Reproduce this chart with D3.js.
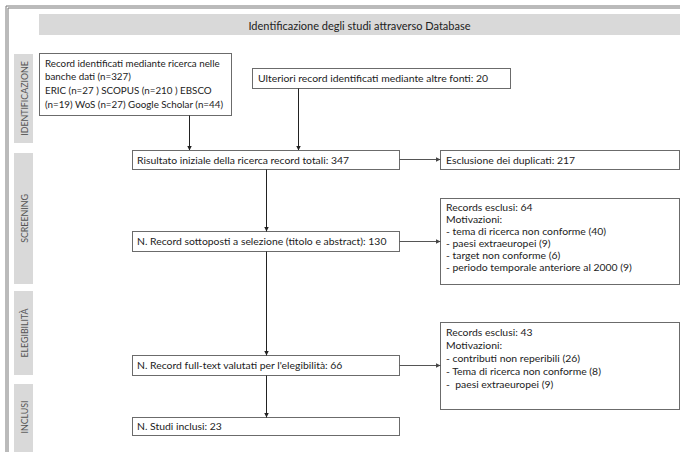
<!DOCTYPE html>
<html>
<head>
<meta charset="utf-8">
<script src="https://cdn.jsdelivr.net/npm/d3@7"></script>
<style>
  body { margin: 0; background: #fff; }
  svg text { font-family: Lato, "Open Sans", sans-serif; fill: #222; white-space: pre; }
</style>
</head>
<body>
<svg id="flow"></svg>
<script>
// Texts and counts
var title = "Identificazione degli studi attraverso Database";
var phases = ["IDENTIFICAZIONE", "SCREENING", "ELEGIBILITÀ", "INCLUSI"];

var dbSources = ["ERIC", "SCOPUS", "EBSCO", "WoS", "Google Scholar"];
var dbCounts = [27, 210, 19, 27, 44];
var dbTotal = 327;
var otherSources = 20;

var mainLabels = [
  "Risultato iniziale della ricerca record totali: ",
  "N. Record sottoposti a selezione (titolo e abstract): ",
  "N. Record full-text valutati per l'elegibilità: ",
  "N. Studi inclusi: "
];
var mainCounts = [347, 130, 66, 23];

var duplicates = 217;
var excl1Total = 64;
var excl1Reasons = ["tema di ricerca non conforme", "paesi extraeuropei ", "target non conforme", "periodo temporale anteriore al 2000"];
var excl1Counts = [40, 9, 6, 9];
var excl2Total = 43;
var excl2Reasons = ["contributi non reperibili", "Tema di ricerca non conforme", " paesi extraeuropei "];
var excl2Counts = [26, 8, 9];

// Canvas
var w = 680,
    h = 452;

var svg = d3.select("#flow")
    .attr("width", w)
    .attr("height", h);

var fs = 10.4,
    boxStroke = "#6b6b6b",
    barFill = "#d9d9d9";

// Layout of the diagram (pixel positions)
var phaseY = [[54, 143], [153, 284], [291, 375], [384, 452]];
var mainX = [132, 399],
    mainY = [[150, 169], [231, 251], [355, 375], [417, 435]],
    sideX = [440, 679],
    sideY = [[150, 169], [198, 284], [322, 409]];

// arrow head
svg.append("defs").selectAll("marker")
    .data([["ahB", "#222"], ["ahG", "#444"]])
    .enter().append("marker")
    .attr("id", function(d) { return d[0]; })
    .attr("viewBox", "0 0 6 6")
    .attr("refX", 6).attr("refY", 3)
    .attr("markerWidth", 5).attr("markerHeight", 5)
    .attr("markerUnits", "userSpaceOnUse")
    .attr("orient", "auto")
    .append("path")
    .attr("d", "M0,0L6,3L0,6Z")
    .attr("fill", function(d) { return d[1]; });

// outer frame (double line, top and left)
[[6, 8], [8, 10]].forEach(function(p, i) {
  svg.append("line").attr("x1", p[0]).attr("x2", p[0]).attr("y1", 6 + i * 2).attr("y2", h)
      .attr("stroke", "#777").attr("stroke-width", 1);
  svg.append("line").attr("x1", 6 + i * 2).attr("x2", w).attr("y1", p[0]).attr("y2", p[0])
      .attr("stroke", "#777").attr("stroke-width", 1);
});

// title bar
svg.append("rect")
    .attr("x", 39).attr("y", 14).attr("width", w - 39).attr("height", 21)
    .attr("fill", barFill);
svg.append("text")
    .attr("x", (39 + w) / 2).attr("y", 25)
    .attr("text-anchor", "middle").attr("dominant-baseline", "central")
    .attr("font-size", 11)
    .text(title);

// phase bars
var phaseG = svg.selectAll(".phase")
    .data(phases)
    .enter().append("g")
    .attr("class", "phase");

phaseG.append("rect")
    .attr("x", 14).attr("width", 19)
    .attr("y", function(d, i) { return phaseY[i][0]; })
    .attr("height", function(d, i) { return phaseY[i][1] - phaseY[i][0]; })
    .attr("fill", barFill);

phaseG.append("text")
    .attr("transform", function(d, i) {
      var cy = (phaseY[i][0] + phaseY[i][1]) / 2;
      if (i === 3) cy = 417;
      return "translate(24," + cy + ") rotate(-90)";
    })
    .attr("text-anchor", "middle").attr("dominant-baseline", "central")
    .attr("font-size", 8.8)
    .style("fill", "#555")
    .text(function(d) { return d; });

function box(x0, y0, x1, y1) {
  svg.append("rect")
      .attr("x", x0 + 0.5).attr("y", y0 + 0.5)
      .attr("width", x1 - x0).attr("height", y1 - y0)
      .attr("fill", "#fff")
      .attr("stroke", boxStroke).attr("stroke-width", 1);
}

function lines(x, y, step, arr, size) {
  var t = svg.append("text").attr("font-size", size || fs);
  arr.forEach(function(s, i) {
    t.append("tspan").attr("x", x).attr("y", y + i * step).text(s);
  });
}

function arrow(x1, y1, x2, y2, grey) {
  svg.append("line")
      .attr("x1", x1 + 0.5).attr("y1", y1 + 0.5).attr("x2", x2 + 0.5).attr("y2", y2 + 0.5)
      .attr("stroke", grey ? "#555" : "#222").attr("stroke-width", 1)
      .attr("marker-end", grey ? "url(#ahG)" : "url(#ahB)");
}

// identification boxes
var srcText = dbSources.map(function(s, i) { return s + " (n=" + dbCounts[i] + (i < 2 ? " )" : ")"); });
box(39, 53, 231, 115);
lines(45, 66.5, 13.7, [
  "Record identificati mediante ricerca nelle",
  "banche dati (n=" + dbTotal + ")",
  srcText[0] + " " + srcText[1] + " " + dbSources[2],
  "(n=" + dbCounts[2] + ") " + srcText[3] + " " + srcText[4]
], 9.8);

box(252, 68, 510, 88);
lines(258, 81.5, 0, ["Ulteriori record identificati mediante altre fonti: " + otherSources]);

arrow(189, 115, 189, 150);
arrow(298, 88, 298, 150);

// main column
var midX = 266;
mainLabels.forEach(function(l, i) {
  box(mainX[0], mainY[i][0], mainX[1], mainY[i][1]);
  lines(mainX[0] + 5, (mainY[i][0] + mainY[i][1]) / 2 + 4, 0, [l + mainCounts[i]]);
  if (i > 0) arrow(midX, mainY[i - 1][1], midX, mainY[i][0]);
});

// side boxes
box(sideX[0], sideY[0][0], sideX[1], sideY[0][1]);
lines(sideX[0] + 6, 163.5, 0, ["Esclusione dei duplicati: " + duplicates]);

box(sideX[0], sideY[1][0], sideX[1], sideY[1][1]);
lines(sideX[0] + 6, 210.5, 12, ["Records esclusi: " + excl1Total, "Motivazioni:"]
    .concat(excl1Reasons.map(function(r, i) { return "- " + r + (i === 1 ? "" : " ") + "(" + excl1Counts[i] + ")"; })));

box(sideX[0], sideY[2][0], sideX[1], sideY[2][1]);
lines(sideX[0] + 6, 336, 13, ["Records esclusi: " + excl2Total, "Motivazioni:"]
    .concat(excl2Reasons.map(function(r, i) { return "- " + r + (i === 2 ? "" : " ") + "(" + excl2Counts[i] + ")"; })));

arrow(mainX[1], 159, sideX[0], 159, true);
arrow(mainX[1], 241, sideX[0], 241, true);
arrow(mainX[1], 365, sideX[0], 365, true);
</script>
</body>
</html>
